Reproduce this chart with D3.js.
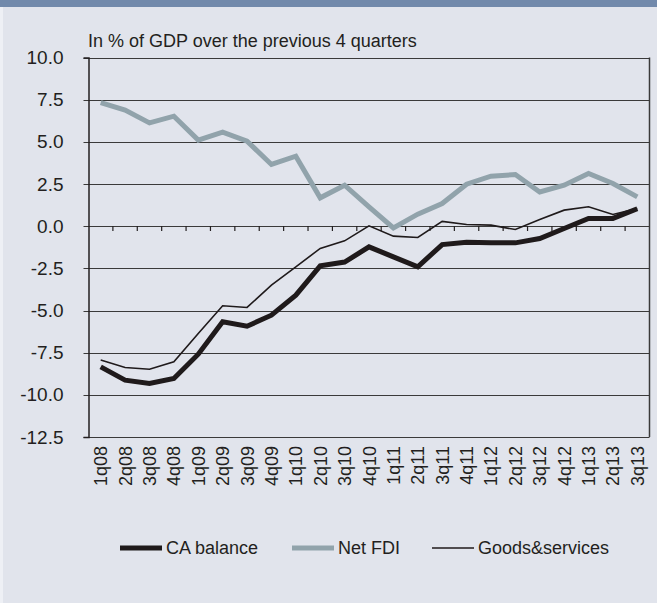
<!DOCTYPE html>
<html>
<head>
<meta charset="utf-8">
<script src="https://cdn.jsdelivr.net/npm/d3@7/dist/d3.min.js"></script>
<style>
  body { margin: 0; background: #e1e4ec; }
  svg { display: block; font-family: "Liberation Sans", Arial, sans-serif; }
</style>
</head>
<body>
<div id="chart"></div>
<script>
const quarters = ["1q08","2q08","3q08","4q08","1q09","2q09","3q09","4q09","1q10","2q10","3q10","4q10",
  "1q11","2q11","3q11","4q11","1q12","2q12","3q12","4q12","1q13","2q13","3q13"]

const caBalance = [-8.34,-9.13,-9.33,-9.03,-7.59,-5.67,-5.93,-5.28,-4.09,-2.35,-2.13,-1.23,
  -1.82,-2.41,-1.09,-0.95,-0.99,-0.99,-0.73,-0.14,0.46,0.46,1.03]
const netFdi = [7.33,6.88,6.12,6.52,5.10,5.57,5.04,3.66,4.15,1.68,2.43,1.15,
  -0.10,0.71,1.34,2.49,2.96,3.06,2.03,2.43,3.12,2.53,1.74]
const goodsServices = [-7.94,-8.38,-8.48,-8.04,-6.36,-4.72,-4.82,-3.50,-2.41,-1.32,-0.87,0.02,
  -0.59,-0.67,0.28,0.10,0.06,-0.20,0.40,0.95,1.15,0.69,1.05]

const yTicks = [-12.5,-10,-7.5,-5,-2.5,0,2.5,5,7.5,10]

const series = [
  { name: "CA balance", values: caBalance, color: "#1f1a1b", width: 5 },
  { name: "Net FDI", values: netFdi, color: "#91a3ab", width: 5 },
  { name: "Goods&services", values: goodsServices, color: "#1f1a1b", width: 1.6 },
]

const width = 657, height = 603
const plot = { left: 88.5, right: 649.5, top: 57.5, bottom: 437 }

const svg = d3.select("#chart").append("svg")
  .attr("width", width)
  .attr("height", height)

// background + header bar
svg.append("rect").attr("width", width).attr("height", height).attr("fill", "#e1e4ec")
svg.append("rect").attr("width", 3).attr("height", height).attr("fill", "#eef0f5")
svg.append("rect").attr("width", width).attr("height", 7).attr("fill", "#7189ab")

const x = d3.scaleBand().domain(quarters).range([plot.left, plot.right])
const y = d3.scaleLinear().domain([-12.5, 10]).range([plot.bottom, plot.top])

// title
svg.append("text")
  .attr("x", 88)
  .attr("y", 47)
  .attr("font-size", 18)
  .attr("fill", "#231f20")
  .text("In % of GDP over the previous 4 quarters")

// gridlines
svg.append("g")
  .selectAll("line")
  .data(yTicks)
  .join("line")
  .attr("x1", plot.left - 5)
  .attr("x2", plot.right)
  .attr("y1", d => Math.round(y(d)) + 0.5)
  .attr("y2", d => Math.round(y(d)) + 0.5)
  .attr("stroke", "#3a3a3a")
  .attr("stroke-width", 1.2)

// y axis
const yAxis = svg.append("g")
  .attr("transform", `translate(${plot.left},0)`)
  .call(d3.axisLeft(y).tickValues(yTicks).tickSize(5).tickPadding(20).tickFormat(d => d.toFixed(1)))
yAxis.select(".domain").attr("stroke", "#231f20").attr("stroke-width", 1.5)
yAxis.selectAll(".tick line").remove()
yAxis.selectAll(".tick text")
  .attr("font-size", 19)
  .attr("font-family", "Liberation Sans, Arial, sans-serif")
  .attr("fill", "#231f20")
  .attr("x", -25)

// right border
svg.append("line")
  .attr("x1", plot.right).attr("x2", plot.right)
  .attr("y1", plot.top).attr("y2", plot.bottom)
  .attr("stroke", "#3a3a3a").attr("stroke-width", 1.5)

// category ticks on the zero line
svg.append("g")
  .selectAll("line")
  .data(quarters.slice(0, -1))
  .join("line")
  .attr("x1", d => x(d) + x.bandwidth())
  .attr("x2", d => x(d) + x.bandwidth())
  .attr("y1", Math.round(y(0)))
  .attr("y2", Math.round(y(0)) + 5)
  .attr("stroke", "#231f20")
  .attr("stroke-width", 1.2)

// category labels
svg.append("g")
  .selectAll("text")
  .data(quarters)
  .join("text")
  .attr("transform", d => `translate(${x(d) + x.bandwidth() / 2 + 6.5},${plot.bottom + 9}) rotate(-90)`)
  .attr("text-anchor", "end")
  .attr("font-size", 18)
  .attr("fill", "#231f20")
  .text(d => d)

// series lines
const line = d3.line()
  .x((d, i) => x(quarters[i]) + x.bandwidth() / 2)
  .y(d => y(d))

const drawOrder = [series[2], series[1], series[0]]
svg.append("g")
  .selectAll("path")
  .data(drawOrder)
  .join("path")
  .attr("d", d => line(d.values))
  .attr("fill", "none")
  .attr("stroke", d => d.color)
  .attr("stroke-width", d => d.width)
  .attr("stroke-linejoin", "miter")

// legend
const legendX = [120, 292, 432]
const legend = svg.append("g")
  .selectAll("g")
  .data(series)
  .join("g")
  .attr("transform", (d, i) => `translate(${legendX[i]},548)`)

legend.append("line")
  .attr("x1", 0).attr("x2", 42)
  .attr("stroke", d => d.color)
  .attr("stroke-width", d => d.width)

legend.append("text")
  .attr("x", 46)
  .attr("dy", "0.35em")
  .attr("font-size", 18)
  .attr("fill", "#231f20")
  .text(d => d.name)
</script>
</body>
</html>
